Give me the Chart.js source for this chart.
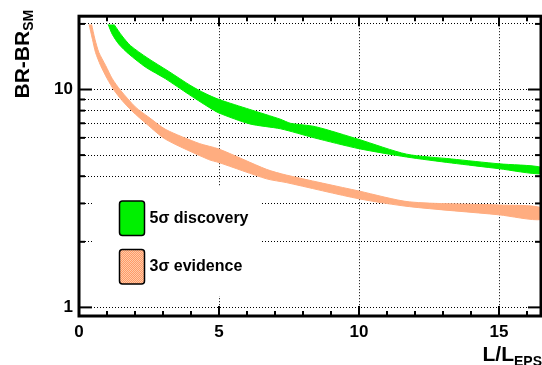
<!DOCTYPE html>
<html>
<head>
<meta charset="utf-8">
<script src="https://cdn.jsdelivr.net/npm/chart.js@4.4.1/dist/chart.umd.min.js"></script>
<style>
  body { margin: 0; background: #fff; }
</style>
</head>
<body>
<canvas id="grafico" width="542" height="365"></canvas>
<script>
// 5 sigma discovery band (upper and lower edge)
const greenUpperX = [1.25, 1.54, 1.84, 2.43, 3.21, 4.0, 4.5, 5.0, 6.1, 7.2, 7.55, 8.45, 10.0, 11.7, 13.3, 15.0, 16.5];
const greenUpperY = [19.9, 17.6, 15.9, 14.0, 12.1, 10.4, 9.6, 9.0, 8.1, 7.3, 7.0, 6.75, 5.9, 5.05, 4.8, 4.56, 4.4];
const greenLowerX = [1.04, 1.19, 1.43, 1.78, 2.38, 3.09, 3.92, 4.63, 5.0, 6.1, 7.2, 8.4, 10.0, 11.7, 13.3, 15.0, 16.5];
const greenLowerY = [19.9, 17.9, 16.1, 14.55, 12.66, 11.2, 9.5, 8.3, 7.8, 6.95, 6.6, 6.0, 5.35, 4.9, 4.6, 4.33, 4.1];

// 3 sigma evidence band
const orangeUpperX = [0.45, 0.57, 0.71, 0.95, 1.19, 1.48, 2.02, 2.5, 3.1, 4.3, 5.0, 6.7, 7.4, 10.0, 11.8, 15.0, 16.5];
const orangeUpperY = [19.9, 17.0, 14.8, 12.9, 11.2, 9.93, 8.3, 7.45, 6.55, 5.65, 5.33, 4.3, 4.05, 3.42, 3.05, 2.95, 2.87];
const orangeLowerX = [0.36, 0.48, 0.59, 0.77, 1.01, 1.25, 1.54, 1.9, 2.43, 3.09, 4.63, 5.0, 6.7, 7.4, 10.0, 11.8, 15.0, 16.5];
const orangeLowerY = [19.9, 17.0, 14.8, 12.9, 11.2, 9.93, 8.9, 7.95, 6.92, 5.91, 4.77, 4.62, 3.89, 3.74, 3.15, 2.9, 2.66, 2.53];

const labels = ['5\u03c3 discovery', '3\u03c3 evidence'];
const xTicks = [0, 5, 10, 15];
const xTickLabels = ['0', '5', '10', '15'];
const yTicks = [1, 2, 3, 4, 5, 6, 7, 8, 9, 10, 20];
const yLabelled = [1, 10];

const green = '#00f000';
const orange = '#ffad80';
const font = "'Liberation Sans', Arial, sans-serif";

// closed outline: upper edge forward, lower edge back
function band(upX, upY, loX, loY) {
    let pts = [];
    for (let i = 0; i < upX.length; i++) pts.push({x: upX[i], y: upY[i]});
    for (let i = loX.length - 1; i >= 0; i--) pts.push({x: loX[i], y: loY[i]});
    return pts;
}

// fine checker used in the legend swatch of the orange band
let pc = document.createElement('canvas');
pc.width = 2; pc.height = 2;
let pctx = pc.getContext('2d');
pctx.fillStyle = '#ff9a66'; pctx.fillRect(0, 0, 2, 2);
pctx.fillStyle = '#ffcaa8'; pctx.fillRect(0, 0, 1, 1); pctx.fillRect(1, 1, 1, 1);

const decor = {
    id: 'decor',
    afterDraw(chart) {
        const ctx = chart.ctx;
        const {left, right, top, bottom} = chart.chartArea;
        const xs = chart.scales.x, ys = chart.scales.y;
        const line = (a, b, c, d) => { ctx.beginPath(); ctx.moveTo(a, b); ctx.lineTo(c, d); ctx.stroke(); };
        ctx.save();
        ctx.strokeStyle = '#000';
        ctx.lineWidth = 2;
        for (let v = 0; v <= xs.max; v++) {
            const px = xs.getPixelForValue(v);
            const len = v % 5 === 0 ? 10 : 5;
            line(px, bottom, px, bottom - len);
            line(px, top, px, top + len);
        }
        for (const v of yTicks) {
            const py = ys.getPixelForValue(v);
            const len = yLabelled.includes(v) ? 13 : 6;
            line(left, py, left + len, py);
            line(right, py, right - len, py);
        }
        ctx.lineWidth = 3;
        ctx.strokeRect(left, top, right - left, bottom - top);

        // legend
        ctx.fillStyle = '#fff';
        ctx.fillRect(92, 187, 170, 109);
        const fills = [green, ctx.createPattern(pc, 'repeat')];
        ctx.font = 'bold 16px ' + font;
        ctx.textBaseline = 'middle';
        ctx.textAlign = 'left';
        chart.data.datasets.forEach((ds, i) => {
            const y0 = 201 + i * 48.5;
            ctx.beginPath();
            ctx.roundRect(119.5, y0, 25, 34.5, 3);
            ctx.fillStyle = fills[i];
            ctx.fill();
            ctx.lineWidth = 1.5;
            ctx.stroke();
            ctx.fillStyle = '#000';
            ctx.fillText(ds.label, 149.5, y0 + 17.5);
        });

        // axis titles
        ctx.textBaseline = 'alphabetic';
        ctx.save();
        ctx.translate(28.5, 98.5);
        ctx.rotate(-Math.PI / 2);
        ctx.font = 'bold 21px ' + font;
        ctx.fillText('BR-BR', 0, 0);
        const w = ctx.measureText('BR-BR').width;
        ctx.font = 'bold 14px ' + font;
        ctx.fillText('SM', w, 4.5);
        ctx.restore();

        ctx.font = 'bold 14px ' + font;
        const ws = ctx.measureText('EPS').width;
        ctx.font = 'bold 21px ' + font;
        const wm = ctx.measureText('L/L').width;
        const x0 = 542 - ws - wm;
        ctx.fillText('L/L', x0, 360.5);
        ctx.font = 'bold 14px ' + font;
        ctx.fillText('EPS', x0 + wm, 365.5);
        ctx.restore();
    }
};

const graphic = new Chart('grafico', {
    type: 'scatter',
    data: {
        datasets: [{
            label: labels[0],
            data: band(greenUpperX, greenUpperY, greenLowerX, greenLowerY),
            showLine: true,
            fill: 'shape',
            tension: 0.25,
            backgroundColor: green,
            borderColor: green,
            borderWidth: 1,
            pointRadius: 0
        }, {
            label: labels[1],
            data: band(orangeUpperX, orangeUpperY, orangeLowerX, orangeLowerY),
            showLine: true,
            fill: 'shape',
            tension: 0.25,
            backgroundColor: orange,
            borderColor: orange,
            borderWidth: 1,
            pointRadius: 0
        }]
    },
    options: {
        responsive: false,
        animation: false,
        layout: { padding: { left: 0, top: 12, right: 1, bottom: 0 } },
        plugins: { legend: { display: false }, tooltip: { enabled: false } },
        scales: {
            x: {
                type: 'linear',
                min: 0,
                max: 16.5,
                z: 1,
                afterBuildTicks: s => { s.ticks = xTicks.map(v => ({value: v})); },
                afterFit: s => { s.height = 49; },
                grid: { color: '#000', lineWidth: 1, drawTicks: false },
                border: { display: false, dash: [1, 2] },
                ticks: {
                    autoSkip: false,
                    maxRotation: 0,
                    padding: 6,
                    color: '#000',
                    font: { family: font, size: 17, weight: 'bold' },
                    callback: v => xTickLabels[xTicks.indexOf(v)]
                }
            },
            y: {
                type: 'logarithmic',
                min: 0.913,
                max: 21.7,
                z: 1,
                afterBuildTicks: s => { s.ticks = yTicks.map(v => ({value: v})); },
                afterFit: s => { s.width = 79; },
                grid: { color: '#000', lineWidth: 1, drawTicks: false },
                border: { display: false, dash: [1, 2] },
                ticks: {
                    autoSkip: false,
                    padding: 6,
                    color: '#000',
                    font: { family: font, size: 17, weight: 'bold' },
                    callback: v => yLabelled.includes(v) ? String(v) : ''
                }
            }
        }
    },
    plugins: [decor]
});
</script>
</body>
</html>
